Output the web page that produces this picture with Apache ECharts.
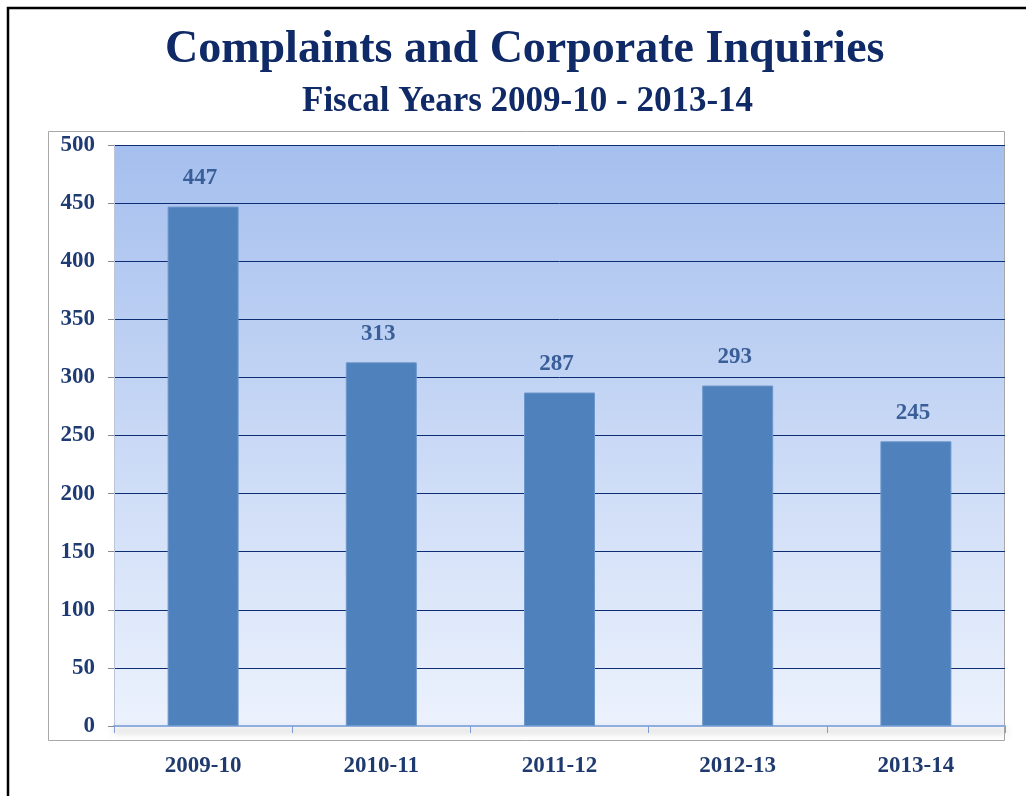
<!DOCTYPE html>
<html>
<head>
<meta charset="utf-8">
<script src="https://cdn.jsdelivr.net/npm/echarts@6/dist/echarts.min.js"></script>
<style>
  html, body { margin: 0; padding: 0; background: #fff; }
  #chart { width: 1026px; height: 796px; }
</style>
</head>
<body>
<div id="chart"></div>
<script>
  // fiscal years and counts
  const years = ['2009-10', '2010-11', '2011-12', '2012-13', '2013-14']
  const counts = [447, 313, 287, 293, 245]

  const serif = '"Liberation Serif", "DejaVu Serif", serif'

  const chart = echarts.init(document.getElementById('chart'))
  chart.setOption({
    animation: false,
    title: [
      {
        text: 'Complaints and Corporate Inquiries',
        left: 160,
        top: 22,
        textStyle: { fontFamily: serif, fontWeight: 'bold', fontSize: 46, color: '#0f2a66' }
      },
      {
        text: 'Fiscal Years 2009-10 - 2013-14',
        left: 297,
        top: 79,
        textStyle: { fontFamily: serif, fontWeight: 'bold', fontSize: 35, color: '#0f2a66' }
      }
    ],
    graphic: [
      // outer black frame (only top and left show inside the picture)
      {
        type: 'rect',
        shape: { x: 8, y: 8, width: 1040, height: 820 },
        style: { fill: 'none', stroke: '#000', lineWidth: 2.5 },
        silent: true
      },
      // grey box round the plot
      {
        type: 'rect',
        shape: { x: 48.5, y: 131.5, width: 956, height: 609 },
        style: { fill: 'none', stroke: '#a8a8a8', lineWidth: 1 },
        silent: true
      }
    ],
    grid: {
      left: 114,
      right: 21,
      top: 145,
      bottom: 70,
      show: true,
      borderWidth: 0,
      backgroundColor: new echarts.graphic.LinearGradient(0, 0, 0, 1, [
        { offset: 0, color: '#a5bfee' },
        { offset: 1, color: '#ecf2fd' }
      ])
    },
    xAxis: {
      type: 'category',
      data: years,
      axisLine: {
        lineStyle: {
          color: '#8eaee0',
          width: 2,
          shadowColor: 'rgba(80,80,80,0.5)',
          shadowBlur: 7,
          shadowOffsetY: 5
        }
      },
      axisTick: { show: true, length: 7, lineStyle: { color: '#7f9fd4' } },
      axisLabel: {
        margin: 29,
        fontFamily: serif,
        fontWeight: 'bold',
        fontSize: 23,
        color: '#1f3a6e'
      }
    },
    yAxis: {
      type: 'value',
      min: 0,
      max: 500,
      interval: 50,
      axisLine: { show: true, lineStyle: { color: '#bcc6d8' } },
      axisTick: { show: true, length: 6, lineStyle: { color: '#8a8a8a' } },
      axisLabel: {
        margin: 19,
        fontFamily: serif,
        fontWeight: 'bold',
        fontSize: 23,
        color: '#1f3b73'
      },
      splitLine: { lineStyle: { color: '#0c2c74', width: 1 } }
    },
    series: [
      {
        type: 'bar',
        data: counts,
        barWidth: 71,
        itemStyle: { color: '#4f81bd', borderColor: '#6d97cc', borderWidth: 1 },
        label: {
          show: true,
          position: 'top',
          distance: 17,
          offset: [-3, 0],
          fontFamily: serif,
          fontWeight: 'bold',
          fontSize: 23,
          color: '#3a5f98'
        }
      }
    ]
  })
</script>
</body>
</html>
